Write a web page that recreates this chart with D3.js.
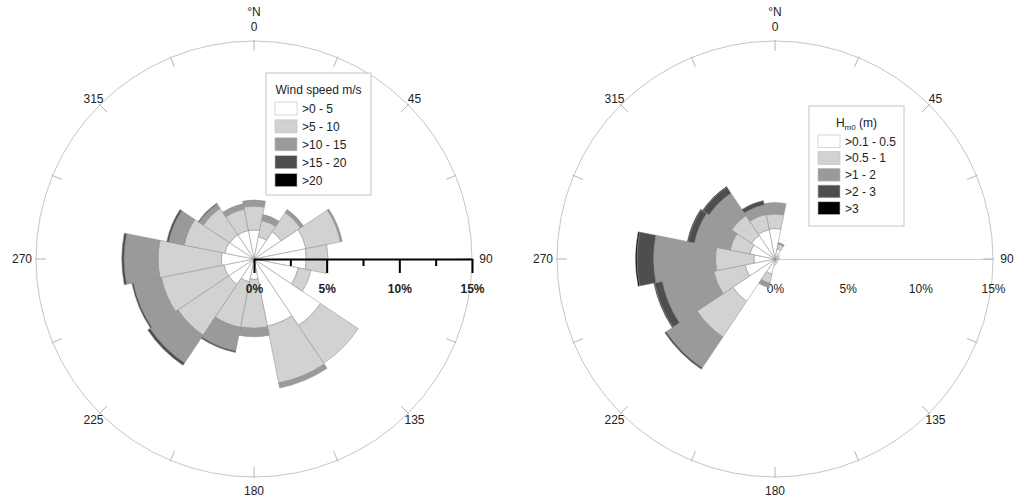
<!DOCTYPE html>
<html>
<head>
<meta charset="utf-8">
<script src="https://cdn.jsdelivr.net/npm/d3@7"></script>
<style>
  body { margin: 0; background: #fff; }
  text { font-family: "Liberation Sans", Arial, sans-serif; fill: #222; }
</style>
</head>
<body>
<svg id="chart" width="1024" height="501"></svg>
<script>
// sector centres, clockwise from north
var directions = [0, 22.5, 45, 67.5, 90, 112.5, 135, 157.5, 180, 202.5, 225, 247.5, 270, 292.5, 315, 337.5];

// wind speed rose, % of time per class
var windClasses = [">0 - 5", ">5 - 10", ">10 - 15", ">15 - 20", ">20"];
var wind0to5   = [2.0, 1.55, 2.25, 3.65, 3.6, 3.1, 5.5, 4.7, 1.4, 1.6, 2.1, 2.1, 2.25, 2.05, 2.0, 2.0];
var wind5to10  = [1.65, 1.15, 1.6, 2.42, 1.5, 0.9, 3.13, 4.0, 3.37, 3.2, 4.2, 4.4, 4.35, 2.85, 2.2, 1.5];
var wind10to15 = [0.41, 0.42, 0.25, 0.12, 0, 0, 0, 0.35, 0.58, 1.65, 2.3, 1.95, 2.33, 1.08, 0.35, 0.37];
var wind15to20 = [0, 0, 0, 0, 0, 0, 0, 0, 0, 0.11, 0.2, 0.12, 0.17, 0.14, 0.07, 0];
var windOver20 = [0, 0, 0, 0, 0, 0, 0, 0, 0, 0, 0, 0, 0, 0, 0, 0];

// wave height rose (Hm0), % of time per class
var waveClasses = [">0.1 - 0.5", ">0.5 - 1", ">1 - 2", ">2 - 3", ">3"];
var hs01to05 = [2.1, 0.7, 0.4, 0.3, 0.3, 0.2, 0.2, 0.3, 0.4, 1.05, 3.5, 2.1, 1.45, 1.75, 1.95, 2.05];
var hs05to1  = [1.0, 0.35, 0, 0, 0, 0, 0, 0, 0, 0.65, 2.95, 2.2, 2.65, 1.4, 1.65, 1.08];
var hs1to2   = [0.78, 0.1, 0, 0, 0, 0, 0, 0, 0, 0.3, 2.55, 3.6, 4.25, 2.5, 1.85, 0.67];
var hs2to3   = [0, 0, 0, 0, 0, 0, 0, 0, 0, 0, 0.12, 0.55, 1.15, 0.45, 0.5, 0.3];
var hsOver3  = [0, 0, 0, 0, 0, 0, 0, 0, 0, 0, 0, 0.05, 0.1, 0.05, 0.05, 0];

var compassAngles = [0, 45, 90, 135, 180, 225, 270, 315];
var compassLabels = ["0", "45", "90", "135", "180", "225", "270", "315"];
var percentTicks = [0, 5, 10, 15];
var minorTicks = [2.5, 7.5, 12.5];

var greys = ["#ffffff", "#d2d2d2", "#9a9a9a", "#4e4e4e", "#000000"];
var svg = d3.select("#chart");
var R = 218;
var r = d3.scaleLinear().domain([0, 15]).range([0, R]);
var ang = d3.scaleLinear().domain([0, 360]).range([0, 2 * Math.PI]);
var halfSector = 11.25;

function buildRows(series) {
  return directions.map((dir, i) => {
    var row = {dir: dir};
    series.forEach((s, k) => { row["c" + k] = s[i]; });
    return row;
  });
}

// labels sit a little closer in on the diagonals
function labelRadius(d) {
  return 232 - 5 * Math.abs(Math.sin(2 * ang(d)));
}

function drawRose(cx, cy, series) {
  var g = svg.append("g").attr("transform", "translate(" + cx + "," + cy + ")");
  var keys = series.map((s, k) => "c" + k);
  var stacked = d3.stack().keys(keys)(buildRows(series));

  // outer ring and ticks
  g.append("circle").attr("r", R).attr("fill", "none")
    .attr("stroke", "#c6c6c6").attr("stroke-width", 1);
  g.selectAll(".ring-tick").data(directions).join("line")
    .attr("class", "ring-tick")
    .attr("x1", d => Math.sin(ang(d)) * (R - 10))
    .attr("y1", d => -Math.cos(ang(d)) * (R - 10))
    .attr("x2", d => Math.sin(ang(d)) * (R + 1))
    .attr("y2", d => -Math.cos(ang(d)) * (R + 1))
    .attr("stroke", "#b4b4b4").attr("stroke-width", 1);

  var arc = d3.arc()
    .innerRadius(d => r(d[0]))
    .outerRadius(d => r(d[1]))
    .startAngle(d => ang(d.data.dir - halfSector))
    .endAngle(d => ang(d.data.dir + halfSector));

  stacked.forEach((layer, k) => {
    g.append("g").selectAll("path")
      .data(layer.filter(d => d[1] - d[0] > 0))
      .join("path")
      .attr("d", arc)
      .attr("fill", greys[k])
      .attr("stroke", "#8a8a8a")
      .attr("stroke-width", 0.5);
  });

  // compass labels
  g.selectAll(".dir-label").data(compassAngles).join("text")
    .attr("class", "dir-label")
    .attr("x", d => Math.sin(ang(d)) * labelRadius(d))
    .attr("y", d => -Math.cos(ang(d)) * labelRadius(d))
    .attr("text-anchor", "middle")
    .attr("dominant-baseline", "central")
    .attr("font-size", 12)
    .text((d, i) => compassLabels[i]);
  g.append("text").attr("x", 0).attr("y", -247)
    .attr("text-anchor", "middle").attr("dominant-baseline", "central")
    .attr("font-size", 12).text("°N");
  return g;
}

function drawLegend(x, y, w, h, title, labels, rowStep, swH) {
  var g = svg.append("g").attr("transform", "translate(" + x + "," + y + ")");
  g.append("rect").attr("width", w).attr("height", h)
    .attr("fill", "#fff").attr("stroke", "#c4c4c4").attr("stroke-width", 1);
  var t = g.append("text").attr("x", w / 2).attr("y", 21)
    .attr("text-anchor", "middle").attr("font-size", 12);
  title(t);
  var rows = g.selectAll(".row").data(labels).join("g")
    .attr("transform", (d, i) => "translate(9," + (29 + i * rowStep) + ")");
  rows.append("rect").attr("width", 22).attr("height", swH)
    .attr("fill", (d, i) => greys[i]).attr("stroke", "#bbb").attr("stroke-width", 0.6);
  rows.append("text").attr("x", 27).attr("y", swH - 2)
    .attr("font-size", 12).text(d => d);
}

// left: wind
var cxL = 254, cyL = 259;
var gL = drawRose(cxL, cyL, [wind0to5, wind5to10, wind10to15, wind15to20, windOver20]);
var axisMajor = gL.append("g").call(d3.axisBottom(r).tickValues(percentTicks)
  .tickSize(14).tickSizeOuter(0).tickPadding(11).tickFormat(d => d + "%"));
axisMajor.select(".domain").attr("stroke", "#000").attr("stroke-width", 2);
axisMajor.selectAll(".tick line").attr("stroke", "#000").attr("stroke-width", 2);
axisMajor.selectAll(".tick text").attr("font-size", 12).attr("font-weight", "bold")
  .attr("font-family", "Liberation Sans, Arial, sans-serif").attr("fill", "#111");
var axisMinor = gL.append("g").call(d3.axisBottom(r).tickValues(minorTicks)
  .tickSize(7).tickSizeOuter(0).tickFormat(""));
axisMinor.select(".domain").remove();
axisMinor.selectAll(".tick line").attr("stroke", "#000").attr("stroke-width", 2);

drawLegend(266, 73, 105, 122, t => t.text("Wind speed m/s"), windClasses, 17.9, 13);

// right: wave height
var cxR = 775, cyR = 259;
var gR = drawRose(cxR, cyR, [hs01to05, hs05to1, hs1to2, hs2to3, hsOver3]);
var axisR = gR.insert("g", ":nth-child(3)").call(d3.axisBottom(r).tickValues(percentTicks)
  .tickSize(0).tickSizeOuter(0).tickPadding(25).tickFormat(d => d + "%"));
axisR.select(".domain").attr("stroke", "#cfcfcf").attr("stroke-width", 1);
axisR.selectAll(".tick text").attr("font-size", 12)
  .attr("font-family", "Liberation Sans, Arial, sans-serif").attr("fill", "#222");

drawLegend(809, 106, 95, 120, t => {
  t.append("tspan").text("H");
  t.append("tspan").attr("font-size", 8).attr("dy", 3).text("m0");
  t.append("tspan").attr("dy", -3).text(" (m)");
}, waveClasses, 16.7, 12.7);
</script>
</body>
</html>
